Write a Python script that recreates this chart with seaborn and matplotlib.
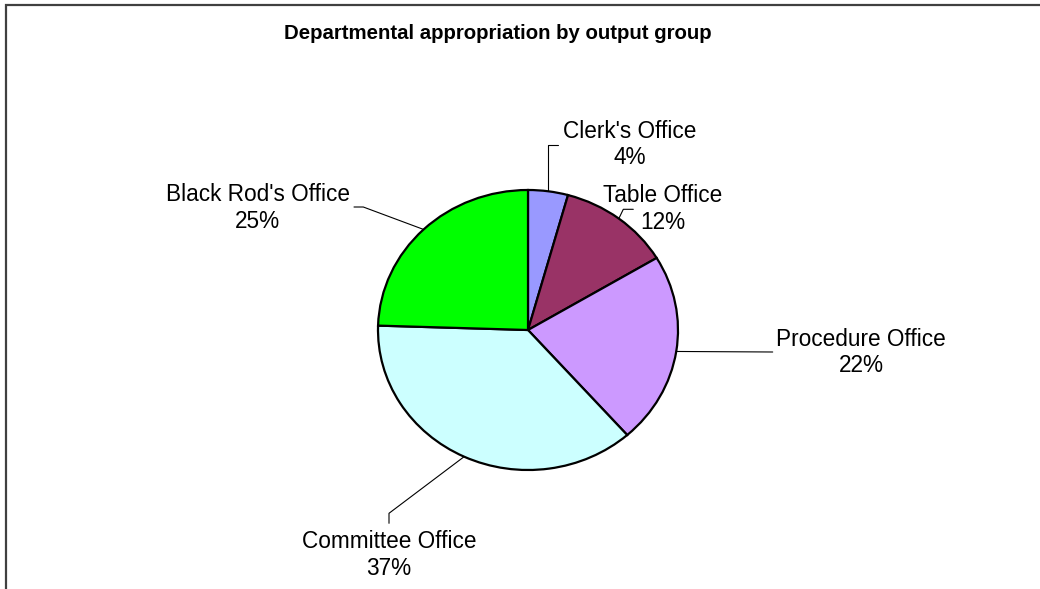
import math
import matplotlib
matplotlib.use("Agg")
import matplotlib.pyplot as plt
import seaborn as sns

# ---- data ----
categories = ["Clerk's Office", "Table Office", "Procedure Office",
              "Committee Office", "Black Rod's Office"]
shares = [4.3, 12.1, 22.1, 37.0, 24.5]
colors = ["#9999FF", "#993366", "#CC99FF", "#CCFFFF", "#00FF00"]
title = "Departmental appropriation by output group"

# ---- layout (pixel coordinates, y downwards) ----
W, H = 1040, 589
pie_box = (378, 190, 300, 280)          # left, top, width, height
label_xy = [(629.5, 137.5), (663, 202.5), (861, 345.5), (389, 548.5), (257.5, 201)]
line_gap = 26.8
leader_path = [
    [("start", 144.7), (558.3, 144.7)],
    [(623.3, 209.3), (633.3, 209.3)],
    [(772.7, 352.0)],
    [(389.0, 513.3), (389.0, 523.3)],
    [(363.3, 207.0), (354.0, 207.0)],
]

sns.set_theme(style="white")
plt.rcParams["font.family"] = ["Liberation Sans", "DejaVu Sans"]

fig = plt.figure(figsize=(W / 100, H / 100), dpi=100)
fig.patch.set_facecolor("white")

l, t, w, h = pie_box
pax = fig.add_axes([l / W, (H - t - h) / H, w / W, h / H])
wedges, _ = pax.pie(shares, colors=colors, startangle=90, counterclock=False,
                    radius=1.0, center=(0, 0),
                    wedgeprops=dict(edgecolor="black", linewidth=1.6))
pax.set_aspect("auto")
pax.set_xlim(-1, 1)
pax.set_ylim(-1, 1)
pax.axis("off")

ov = fig.add_axes([0, 0, 1, 1], zorder=5)
ov.set_xlim(0, W)
ov.set_ylim(H, 0)
ov.axis("off")
ov.patch.set_alpha(0)

# frame (left and top edges)
ov.plot([5.5, 5.5, W], [H, 4.5, 4.5], color="#404040", lw=1.6,
        solid_joinstyle="miter", clip_on=False)

ov.text(498, 39.3, title, ha="center", va="baseline", fontsize=14.7,
        fontweight="bold", color="black")

def to_px(x, y):
    dx, dy = pax.transData.transform((x, y))
    return dx, H - dy

for wdg, name, val, (lx, ly), path in zip(wedges, categories, shares, label_xy, leader_path):
    mid = math.radians((wdg.theta1 + wdg.theta2) / 2)
    sx, sy = to_px(math.cos(mid), math.sin(mid))
    xs, ys = [sx], [sy]
    for px, py in path:
        xs.append(sx if px == "start" else px)
        ys.append(py)
    ov.plot(xs, ys, color="black", lw=0.8, clip_on=False)
    pct = f"{int(math.floor(val + 0.5))}%"
    ov.text(lx, ly, name, ha="center", va="baseline", fontsize=16.3, color="black")
    ov.text(lx, ly + line_gap, pct, ha="center", va="baseline", fontsize=16.3, color="black")

fig.savefig("out.png", dpi=100, facecolor="white")
